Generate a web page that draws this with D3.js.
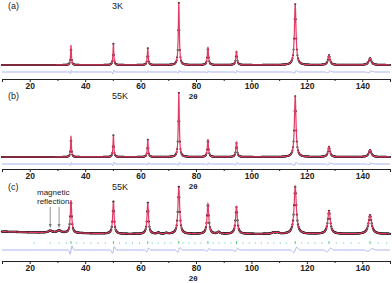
<!DOCTYPE html>
<html>
<head>
<meta charset="utf-8">
<script src="https://cdn.jsdelivr.net/npm/d3@7"></script>
<style>
body { margin: 0; background: #fff; }
svg { display: block; font-family: "Liberation Sans", Arial, sans-serif; }
</style>
</head>
<body>
<div id="chart"></div>
<script>
// peak positions (2theta) and relative heights
var peakPos = [34.9, 50.2, 62.6, 73.8, 84.3, 94.6, 115.8, 128.0, 142.8];
var heightsA = [32, 34, 27, 100, 29, 21, 98, 16, 11];
var heightsB = [33, 34, 27, 100, 28, 22, 95, 16, 11];
var heightsC = [70, 68, 66, 100, 64, 57, 100, 49, 40];
var widthsAB = [0.35, 0.38, 0.4, 0.45, 0.5, 0.55, 0.7, 0.85, 1.1];
var widthsC = [0.6, 0.62, 0.65, 0.75, 0.75, 0.8, 1.0, 1.1, 1.35];
var diffA = [2.5, 3, 1.5, 2, 1.5, 1.5, 2, 1.5, 1];
var diffB = [2, 2.5, 1.5, 2, 1.5, 1.5, 2, 1.5, 1];
var diffC = [9, 7, 4, 5, 3, 3, 6, 4, 3];

// small extra features in (c): magnetic reflections + weak bumps
var extraPosC = [27.4, 30.6, 66.4, 69.3, 88.2, 107.9, 109.4];
var extraHC = [4, 5, 3, 2, 4, 3, 3];
var extraWC = [1.6, 1.6, 0.8, 0.8, 1.0, 1.2, 1.2];
var bgAngC = [10, 20, 40, 55, 150];
var bgLevC = [5, 3.5, 1.5, 0, 0];

// reflection markers in (c)
var magTicks = [21.6, 27.4, 30.6, 33.2, 36.8, 39.5, 42.1, 44.6, 47.3, 52.4, 54.8, 57.1,
  59.6, 64.2, 66.4, 68.7, 70.9, 75.3, 77.4, 79.6, 81.8, 86.2, 88.3, 90.5, 92.6, 97.0,
  99.2, 101.4, 103.6, 105.9, 108.1, 110.4, 112.7, 118.1, 120.5, 122.9, 125.4, 130.6,
  133.3, 136.0, 138.8, 145.8, 148.8];

var xTicks = [10, 20, 30, 40, 50, 60, 70, 80, 90, 100, 110, 120, 130, 140, 150];

var W = 392, H = 283;
var svg = d3.select("#chart").append("svg").attr("width", W).attr("height", H);
var x = d3.scaleLinear().domain([10, 150]).range([2, 390]);

var panels = [
  {tag: "(a)", temp: "3K", heights: heightsA, widths: widthsAB, diff: diffA,
   top: 3, base: 65, diffY: 72, axisY: 79, r: 1.05},
  {tag: "(b)", temp: "55K", heights: heightsB, widths: widthsAB, diff: diffB,
   top: 93, base: 157, diffY: 164, axisY: 169, r: 1.05},
  {tag: "(c)", temp: "55K", heights: heightsC, widths: widthsC, diff: diffC,
   top: 187, base: 234, diffY: 250, axisY: 261, r: 1.15, extra: true}
];

function lor(t) { return 1 / (1 + t * t); }

var bgC = d3.scaleLinear().domain(bgAngC).range(bgLevC);
var grid = d3.range(10, 150.001, 0.05);

panels.forEach(function(p) {
  var y = d3.scaleLinear().domain([0, 100]).range([p.base, p.top]);
  var k = (p.base - p.top) / 100;

  var calc = grid.map(function(a) {
    var v = p.extra ? bgC(a) : 0;
    peakPos.forEach(function(c, i) { v += p.heights[i] * lor((a - c) / (p.widths[i] / 2)); });
    if (p.extra) extraPosC.forEach(function(c, i) { v += extraHC[i] * lor((a - c) / (extraWC[i] / 2)); });
    return [a, v];
  });
  var diff = grid.map(function(a) {
    var v = 0;
    peakPos.forEach(function(c, i) {
      var t = (a - c) / (p.widths[i] * 0.8);
      v += p.diff[i] * t * Math.exp(-t * t) * 2.3;
    });
    return [a, v];
  });

  var g = svg.append("g");

  // observed points (coarser step than the calculated curve)
  g.selectAll("circle.obs").data(calc.filter(function(d, i) { return i % 4 === 0; }))
    .enter().append("circle")
    .attr("cx", function(d) { return x(d[0]); })
    .attr("cy", function(d) { return y(d[1]); })
    .attr("r", p.r).attr("fill", "#1c1c1c");

  // calculated
  g.append("path").datum(calc)
    .attr("d", d3.line().x(function(d) { return x(d[0]); }).y(function(d) { return y(d[1]); }))
    .attr("fill", "none").attr("stroke", "#e23a62").attr("stroke-width", 1.2);

  // difference
  g.append("path").datum(diff)
    .attr("d", d3.line().x(function(d) { return x(d[0]); }).y(function(d) { return p.diffY - d[1] * k; }))
    .attr("fill", "none").attr("stroke", "#9ea4ee").attr("stroke-width", 0.9);

  if (p.extra) {
    g.selectAll("line.mag").data(magTicks).enter().append("line")
      .attr("x1", function(d) { return x(d); }).attr("x2", function(d) { return x(d); })
      .attr("y1", 242).attr("y2", 244)
      .attr("stroke", "#a6e0de").attr("stroke-width", 1);
    g.selectAll("line.nuc").data(peakPos).enter().append("line")
      .attr("x1", function(d) { return x(d); }).attr("x2", function(d) { return x(d); })
      .attr("y1", 241).attr("y2", 244)
      .attr("stroke", "#52cc7a").attr("stroke-width", 1);
  } else {
    g.selectAll("line.nuc").data(peakPos).enter().append("line")
      .attr("x1", function(d) { return x(d); }).attr("x2", function(d) { return x(d); })
      .attr("y1", p.diffY - 2).attr("y2", p.diffY + 1)
      .attr("stroke", "#c8d0f2").attr("stroke-width", 0.8);
  }

  // axis
  var ax = g.append("g").attr("transform", "translate(0," + p.axisY + ")")
    .call(d3.axisBottom(x).tickValues(xTicks).tickSize(3).tickPadding(1)
      .tickFormat(function(d) { return (d % 20 === 0 && d > 10 && d < 150) ? d : ""; }));
  ax.select(".domain").attr("stroke", "#222").attr("stroke-width", 1);
  ax.selectAll(".tick line").attr("stroke", "#222")
    .attr("y2", function(d) { return d % 20 === 0 ? 3 : 2; });
  ax.selectAll(".tick text").attr("font-size", 8.5).attr("font-weight", "bold")
    .attr("fill", "#222").attr("font-family", "Liberation Sans, Arial, sans-serif");

  g.append("text").attr("x", x(79)).attr("y", p.axisY + 20)
    .attr("font-size", 8).attr("font-weight", "bold").attr("fill", "#222")
    .attr("text-anchor", "middle").text("2θ");

  g.append("text").attr("x", 8).attr("y", p.top + (p.extra ? 3 : 6))
    .attr("font-size", 9).attr("fill", "#222").text(p.tag);
  g.append("text").attr("x", 112).attr("y", p.top + (p.extra ? 3 : 6))
    .attr("font-size", 9).attr("fill", "#222").text(p.temp);
});

// annotation in (c)
svg.append("text").attr("x", 37).attr("y", 195).attr("font-size", 8).attr("fill", "#222").text("magnetic");
svg.append("text").attr("x", 37).attr("y", 204).attr("font-size", 8).attr("fill", "#222").text("reflection");
[27.4, 30.6].forEach(function(a) {
  svg.append("line").attr("x1", x(a)).attr("x2", x(a)).attr("y1", 207).attr("y2", 226)
    .attr("stroke", "#777").attr("stroke-width", 0.8);
  svg.append("path").attr("d", "M" + (x(a) - 1.5) + ",224 L" + (x(a) + 1.5) + ",224 L" + x(a) + ",228 Z")
    .attr("fill", "#777");
});
</script>
</body>
</html>
